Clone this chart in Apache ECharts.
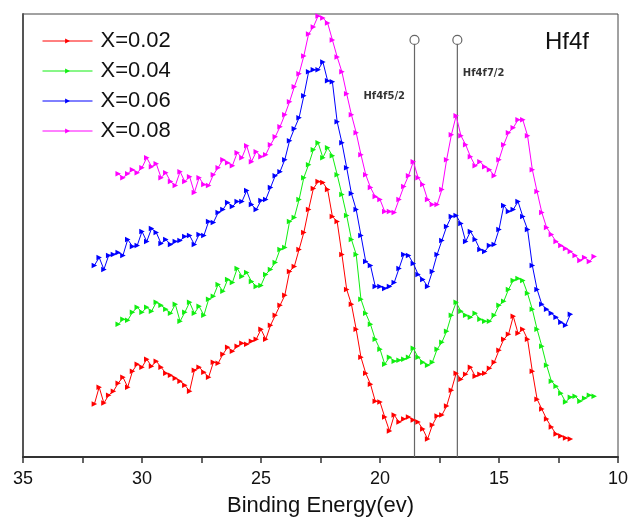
<!DOCTYPE html>
<html>
<head>
<meta charset="utf-8">
<title>Hf4f XPS spectra</title>
<script src="https://cdn.jsdelivr.net/npm/echarts@6/dist/echarts.min.js"></script>
<style>
  html, body { margin: 0; padding: 0; background: #fff; }
  #chart { width: 640px; height: 522px; }
</style>
</head>
<body>
<div id="chart"></div>
<script>
// Binding energy grid (eV), high to low
const energy = [
  32.0, 31.8, 31.6, 31.4, 31.2, 31.0, 30.8, 30.6, 30.4, 30.2,
  30.0, 29.8, 29.6, 29.4, 29.2, 29.0, 28.8, 28.6, 28.4, 28.2,
  28.0, 27.8, 27.6, 27.4, 27.2, 27.0, 26.8, 26.6, 26.4, 26.2,
  26.0, 25.8, 25.6, 25.4, 25.2, 25.0, 24.8, 24.6, 24.4, 24.2,
  24.0, 23.8, 23.6, 23.4, 23.2, 23.0, 22.8, 22.6, 22.4, 22.2,
  22.0, 21.8, 21.6, 21.4, 21.2, 21.0, 20.8, 20.6, 20.4, 20.2,
  20.0, 19.8, 19.6, 19.4, 19.2, 19.0, 18.8, 18.6, 18.4, 18.2,
  18.0, 17.8, 17.6, 17.4, 17.2, 17.0, 16.8, 16.6, 16.4, 16.2,
  16.0, 15.8, 15.6, 15.4, 15.2, 15.0, 14.8, 14.6, 14.4, 14.2,
  14.0, 13.8, 13.6, 13.4, 13.2, 13.0, 12.8, 12.6, 12.4, 12.2,
  12.0, 11.8, 11.6, 11.4, 11.2, 11.0
];

// Intensities (a.u., stacked with vertical offsets); null = not measured
const x002 = [
  53, 70, 54, 62, 66, 74, 80, 70, 86, 93,
  90, 98, 91, 96, 90, 84, 82, 79, 76, 72,
  66, 87, 90, 85, 80, 95, 94, 103, 110, 106,
  111, 114, 113, 116, 118, 128, 118, 132, 142, 152,
  162, 186, 191, 208, 225, 248, 269, 276, 275, 268,
  241, 236, 203, 168, 153, 128, 100, 84, 73, 56,
  55, 40, 26, 42, 35, 38, 40, 37, 35, 28,
  18, 32, 41, 42, 51, 67, 84, 78, 83, 90,
  81, 83, 84, 89, 95, 107, 118, 123, 141, 124,
  128, 118, 86, 58, 48, 38, 30, 23, 21, 19,
  18, null, null, null, null, null
];

const x004 = [
  null, null, null, null, null,
  133, 138, 137, 145, 150, 145, 150, 146, 155, 152,
  148, 144, 153, 136, 145, 155, 144, 151, 142, 158,
  161, 173, 166, 178, 175, 189, 181, 185, 176, 171,
  172, 183, 188, 195, 208, 210, 236, 240, 258, 280,
  293, 308, 315, 300, 310, 302, 283, 263, 242, 218,
  203, 158, 144, 133, 118, 108, 93, 100, 96, 97,
  98, 100, 109, 100, 95, 92, 95, 108, 115, 126,
  142, 155, 146, 142, 140, 144, 138, 136, 136, 142,
  152, 156, 168, 177, 179, 177, 164, 148, 128, 111,
  92, 76, 71, 64, 55, 60, 61, 56, 59, 62,
  61
];

const x006 = [
  192, 200, 188, 202, 203, 205, 202, 218, 211, 212,
  226, 216, 229, 225, 214, 218, 213, 216, 217, 221,
  222, 213, 223, 222, 236, 235, 245, 248, 255, 251,
  256, 256, 267, 253, 248, 257, 258, 270, 282, 286,
  298, 317, 329, 340, 362, 386, 388, 388, 396, 377,
  376, 336, 315, 290, 264, 248, 222, 196, 192, 171,
  171, 169, 171, 175, 189, 203, 202, 194, 183, 178,
  171, 186, 203, 217, 231, 241, 242, 234, 216, 226,
  218, 208, 206, 212, 213, 228, 252, 246, 248, 256,
  241, 228, 192, 168, 153, 148, 144, 140, 135, 132,
  143, null, null, null, null, null
];

const x008 = [
  null, null, null, null, null,
  284, 280, 284, 288, 285, 290, 300, 291, 294, 280,
  285, 276, 272, 286, 276, 281, 265, 280, 273, 272,
  283, 290, 298, 295, 292, 305, 300, 312, 296, 306,
  301, 303, 313, 321, 331, 343, 356, 371, 384, 402,
  424, 431, 442, 440, 435, 418, 401, 386, 364, 343,
  325, 303, 283, 270, 261, 258, 246, 246, 245, 258,
  271, 282, 296, 280, 273, 258, 253, 253, 268, 298,
  323, 342, 322, 313, 301, 292, 296, 291, 288, 282,
  298, 313, 325, 330, 338, 338, 322, 288, 266, 245,
  230, 223, 216, 212, 209, 206, 202, 197, 200, 196,
  201
];

const seriesNames = ['X=0.02', 'X=0.04', 'X=0.06', 'X=0.08'];
const seriesValues = [x002, x004, x006, x008];
const seriesColors = ['#ff0000', '#11ee11', '#0000ff', '#ff00ff'];

// Reference peak positions (eV)
const peakNames = ['Hf4f5/2', 'Hf4f7/2'];
const peakEnergy = [18.55, 16.75];

const xTicks = { min: 10, max: 35, step: 5 };

function pairs(vals) {
  const out = [];
  energy.forEach((e, i) => { if (vals[i] !== null) out.push([e, vals[i]]); });
  return out;
}

const FONT = 'Liberation Sans, Arial, sans-serif';
const LINE_TOP = 418;

const series = seriesNames.map((name, k) => ({
  name: name,
  type: 'line',
  data: pairs(seriesValues[k]),
  symbol: 'triangle',
  symbolSize: 5.5,
  symbolRotate: -90,
  showSymbol: true,
  showAllSymbol: true,
  lineStyle: { width: 1, color: seriesColors[k] },
  itemStyle: { color: seriesColors[k] },
  z: 3
}));

// Vertical marker lines with open circles at the top
peakNames.forEach((pn, k) => {
  series.push({
    name: pn,
    type: 'line',
    silent: true,
    z: 2,
    lineStyle: { width: 1.2, color: '#666' },
    itemStyle: { color: '#fff', borderColor: '#666', borderWidth: 1.2 },
    data: [
      { value: [peakEnergy[k], 0], symbol: 'none' },
      { value: [peakEnergy[k], LINE_TOP], symbol: 'circle', symbolSize: 9 }
    ]
  });
});

// Peak labels beside the marker lines
const labelLevels = [361, 384];
const labelSides = ['left', 'right'];
const labelDist = [9, 5];
series.push({
  name: 'peak labels',
  type: 'scatter',
  silent: true,
  z: 4,
  symbol: 'circle',
  symbolSize: 1,
  itemStyle: { color: 'rgba(0,0,0,0)' },
  data: peakNames.map((pn, k) => ({
    value: [peakEnergy[k], labelLevels[k]],
    label: {
      show: true, formatter: pn, position: labelSides[k], distance: labelDist[k],
      fontFamily: 'DejaVu Sans', fontWeight: 'bold', fontSize: 10, color: '#000'
    }
  }))
});

const chart = echarts.init(document.getElementById('chart'), null, { renderer: 'canvas' });
chart.setOption({
  animation: false,
  backgroundColor: '#fff',
  title: {
    text: 'Hf4f', left: 545, top: 30, padding: 0,
    textStyle: { fontFamily: FONT, fontSize: 24, fontWeight: 'normal', color: '#111' }
  },
  legend: {
    data: seriesNames,
    orient: 'vertical',
    left: 37, top: 25,
    itemWidth: 50, itemHeight: 6, itemGap: 8,
    lineStyle: { width: 1 },
    textStyle: { fontFamily: FONT, fontSize: 22, color: '#111', lineHeight: 22, padding: [0, 0, 0, 3] }
  },
  grid: {
    left: 23, right: 22, top: 14, bottom: 64,
    show: true, borderColor: '#444', borderWidth: 1, backgroundColor: 'transparent'
  },
  xAxis: {
    type: 'value',
    min: xTicks.min, max: xTicks.max, interval: xTicks.step,
    inverse: true,
    axisLine: { show: true, onZero: false, lineStyle: { color: '#333', width: 2 } },
    axisTick: { show: true, inside: false, length: 6, lineStyle: { color: '#333', width: 1.5 } },
    minorTick: { show: true, splitNumber: 2, length: 6, lineStyle: { color: '#333', width: 1.5 } },
    splitLine: { show: false },
    axisLabel: { fontFamily: FONT, fontSize: 18, color: '#111', margin: 13 },
    name: 'Binding Energy(ev)',
    nameLocation: 'middle',
    nameGap: 38,
    nameTextStyle: { fontFamily: FONT, fontSize: 22, color: '#111' }
  },
  yAxis: {
    type: 'value',
    min: 0, max: 444,
    axisLine: { show: true, onZero: false, lineStyle: { color: '#555', width: 2 } },
    axisTick: { show: false },
    axisLabel: { show: false },
    splitLine: { show: false }
  },
  series: series
});
</script>
</body>
</html>
